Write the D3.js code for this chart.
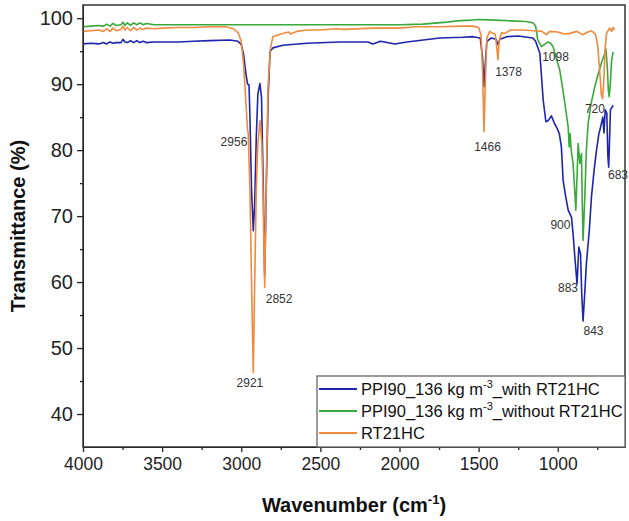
<!DOCTYPE html>
<html>
<head>
<meta charset="utf-8">
<script src="https://cdn.jsdelivr.net/npm/d3@7"></script>
<style>
  body { margin: 0; background: #fff; }
  svg text { font-family: Arial, 'Liberation Sans', sans-serif; }
</style>
</head>
<body>
<svg id="chart" width="629" height="521"></svg>
<script>
// blue: PPI90 foam with RT21HC
const blueWn = [4000, 3950, 3900, 3870, 3850, 3830, 3810, 3790, 3760, 3747, 3735, 3720, 3700, 3680, 3660, 3640, 3620, 3600, 3550, 3400, 3300, 3200, 3071, 3020, 3000, 2985, 2970, 2960, 2951, 2945, 2935, 2924, 2915, 2905, 2895, 2882, 2872, 2862, 2852, 2842, 2830, 2818, 2800, 2737, 2585, 2377, 2200, 2168, 2120, 2029, 1953, 1850, 1745, 1600, 1536, 1490, 1475, 1466, 1458, 1448, 1420, 1390, 1378, 1365, 1322, 1250, 1157, 1140, 1113, 1092, 1075, 1060, 1040, 1020, 1008, 990, 977, 966, 950, 934, 913, 902, 892, 878, 867, 856, 848, 840, 829, 819, 800, 787, 770, 755, 740, 734, 715, 708, 700, 690, 683, 678, 672, 667, 650];
const blueT = [96.1, 96.2, 96.1, 96.3, 96.1, 96.4, 96.2, 96.3, 96.3, 96.8, 96.4, 96.3, 96.6, 96.3, 96.6, 96.3, 96.5, 96.3, 96.4, 96.4, 96.5, 96.6, 96.7, 96.5, 96.0, 94.5, 91.5, 90.0, 89.9, 85, 74, 67.8, 72, 82, 88.5, 90.1, 88, 76, 61, 74, 88, 94.9, 95.5, 95.9, 96.2, 96.4, 96.4, 96.1, 96.5, 96.1, 96.4, 96.7, 97.0, 97.1, 97.2, 97.0, 94, 89.6, 93, 96.5, 97.0, 96.8, 96.0, 96.8, 97.2, 97.3, 97.0, 96.5, 94.7, 87.6, 84.3, 84.5, 85.2, 84.0, 83.5, 82.5, 80.5, 75.4, 73.0, 70.9, 69.8, 67, 63.8, 59.7, 65.3, 64.3, 58, 54.1, 58.5, 62.8, 68, 72.9, 77, 80.0, 82.5, 83.0, 85.0, 82.6, 86.1, 85.6, 79, 77.4, 82, 86.1, 86.8];

// green: PPI90 foam without RT21HC
const greenWn = [4000, 3950, 3900, 3870, 3850, 3830, 3810, 3790, 3760, 3747, 3735, 3720, 3700, 3680, 3660, 3640, 3620, 3600, 3550, 3400, 3000, 2500, 2000, 1852, 1700, 1637, 1550, 1500, 1400, 1300, 1200, 1157, 1140, 1126, 1103, 1085, 1061, 1045, 1030, 1010, 987, 970, 955, 934, 928, 922, 915, 903, 893, 886, 878, 871, 860, 850, 845, 840, 829, 819, 808, 790, 766, 745, 724, 705, 696, 688, 680, 675, 668, 660, 650];
const greenT = [98.7, 98.8, 98.9, 98.8, 99.1, 98.8, 99.2, 98.9, 99.0, 99.4, 98.9, 99.3, 98.9, 99.3, 99.0, 99.3, 99.0, 99.2, 99.0, 99.0, 99.0, 99.0, 99.0, 99.1, 99.4, 99.6, 99.7, 99.8, 99.7, 99.6, 99.5, 99.3, 98.8, 96.7, 95.7, 96.0, 96.4, 96.2, 95.7, 94.0, 92.1, 89.5, 87.1, 83.5, 80.5, 82.5, 80.0, 78.0, 74, 70.9, 76, 81.0, 78, 79.5, 72, 66.3, 72.9, 80.0, 84.0, 87.0, 89.6, 91.5, 93.2, 94.5, 95.4, 93, 89, 88.1, 90, 93.5, 94.9];

// orange: RT21HC
const orangeWn = [4000, 3950, 3900, 3870, 3850, 3830, 3810, 3790, 3760, 3747, 3735, 3720, 3700, 3680, 3660, 3640, 3620, 3600, 3550, 3500, 3400, 3300, 3200, 3100, 3050, 3020, 3000, 2985, 2970, 2960, 2956, 2945, 2935, 2924, 2915, 2905, 2895, 2882, 2870, 2862, 2852, 2842, 2830, 2815, 2800, 2750, 2700, 2690, 2650, 2585, 2500, 2400, 2350, 2168, 2000, 1900, 1745, 1600, 1536, 1500, 1485, 1475, 1466, 1458, 1448, 1430, 1410, 1395, 1385, 1378, 1370, 1355, 1334, 1300, 1220, 1150, 1100, 1071, 1050, 1000, 960, 923, 880, 842, 810, 787, 760, 747, 735, 725, 717, 710, 700, 692, 680, 671, 660, 650, 640];
const orangeT = [98.0, 98.1, 98.2, 98.0, 98.4, 98.0, 98.5, 98.1, 98.3, 98.8, 98.2, 98.6, 98.1, 98.6, 98.2, 98.5, 98.3, 98.5, 98.4, 98.5, 98.6, 98.6, 98.7, 98.7, 98.4, 97.8, 96.5, 93, 87, 83, 82.6, 74, 60, 46.3, 60, 74, 81, 84.5, 81, 73, 59.2, 75, 90, 95.5, 97.2, 97.6, 97.9, 97.6, 98, 98.2, 98.2, 98.4, 98.3, 98.5, 98.5, 98.7, 98.7, 98.8, 98.8, 98.6, 97.5, 92, 82.8, 90, 97, 98, 97.7, 97.6, 95.5, 93.7, 96.5, 97.8, 97.7, 98.2, 98.2, 98.1, 98.0, 97.5, 98.0, 97.9, 97.6, 97.7, 98.0, 97.5, 97.9, 98.1, 97.5, 95.7, 92, 88.5, 87.8, 90, 95.5, 97.7, 98.2, 98.5, 98.0, 98.6, 98.2];

const seriesNames = ['PPI90_136 kg m', 'PPI90_136 kg m', 'RT21HC'];
const seriesSuffix = ['_with RT21HC', '_without RT21HC', ''];
const seriesColors = ['#1d25ad', '#3aa83a', '#f08a3c'];

const xTicks = [4000, 3500, 3000, 2500, 2000, 1500, 1000];
const yTicks = [40, 50, 60, 70, 80, 90, 100];

// peak annotations, anchored in data units (wavenumber, transmittance)
const peakLabels = ['2956', '2921', '2852', '1466', '1378', '1098', '720', '683', '900', '883', '843'];
const peakWn = [3046, 2945, 2761, 1444, 1311, 1014, 765, 619, 983, 935, 774];
const peakT = [81.2, 44.7, 57.4, 80.5, 91.8, 94.1, 86.2, 76.2, 68.7, 59.1, 52.6];

const margins = { left: 83, right: 4, top: 5, bottom: 74 };
const width = 629, height = 521;

const vis = d3.select('#chart');

const xScale = d3
    .scaleLinear()
    .domain([4000, 575])
    .range([margins.left, width - margins.right]),
  yScale = d3
    .scaleLinear()
    .domain([35, 102])
    .range([height - margins.bottom, margins.top]);

const x0 = margins.left,
  x1 = width - margins.right,
  y0 = height - margins.bottom,
  y1 = margins.top;

// minor ticks first, then major ticks with labels
vis
  .append('g')
  .attr('transform', 'translate(0,' + y0 + ')')
  .call(
    d3.axisBottom(xScale)
      .tickValues(d3.range(3750, 575, -500))
      .tickSize(3)
      .tickFormat('')
      .tickSizeOuter(0)
  );
vis
  .append('g')
  .attr('transform', 'translate(' + x0 + ',0)')
  .call(
    d3.axisLeft(yScale)
      .tickValues(d3.range(45, 100, 10))
      .tickSize(3)
      .tickFormat('')
      .tickSizeOuter(0)
  );

const xAxis = vis
  .append('g')
  .attr('transform', 'translate(0,' + y0 + ')')
  .call(
    d3.axisBottom(xScale)
      .tickValues(xTicks)
      .tickFormat(d3.format('d'))
      .tickSize(5)
      .tickPadding(6)
      .tickSizeOuter(0)
  );
const yAxis = vis
  .append('g')
  .attr('transform', 'translate(' + x0 + ',0)')
  .call(
    d3.axisLeft(yScale)
      .tickValues(yTicks)
      .tickFormat(d3.format('d'))
      .tickSize(6)
      .tickPadding(4)
      .tickSizeOuter(0)
  );

xAxis.select('.domain').remove();
yAxis.select('.domain').remove();
xAxis.selectAll('text').style('font-size', '17.5px').attr('fill', '#222');
yAxis.selectAll('text').style('font-size', '20px').attr('fill', '#222');
vis.selectAll('.tick line').attr('stroke', '#222').attr('stroke-width', 1.3);

// lines
const lineGen = d3
  .line()
  .x(d => xScale(d[0]))
  .y(d => yScale(d[1]));

const allSeries = [
  d3.zip(blueWn, blueT),
  d3.zip(greenWn, greenT),
  d3.zip(orangeWn, orangeT)
];

vis
  .append('g')
  .selectAll('path')
  .data(allSeries)
  .join('path')
  .attr('d', lineGen)
  .attr('fill', 'none')
  .attr('stroke', (d, i) => seriesColors[i])
  .attr('stroke-width', 1.6)
  .attr('stroke-linejoin', 'round');

// frame
vis
  .append('rect')
  .attr('x', x0)
  .attr('y', y1)
  .attr('width', x1 - x0)
  .attr('height', y0 - y1)
  .attr('fill', 'none')
  .attr('stroke', '#333')
  .attr('stroke-width', 1.5);

// peak labels
vis
  .append('g')
  .selectAll('text')
  .data(peakLabels)
  .join('text')
  .attr('x', (d, i) => xScale(peakWn[i]))
  .attr('y', (d, i) => yScale(peakT[i]))
  .attr('dy', '0.35em')
  .attr('text-anchor', 'middle')
  .style('font-size', '12px')
  .attr('fill', '#333')
  .text(d => d);

// legend
const legend = vis.append('g').attr('transform', 'translate(317,376)');
legend
  .append('rect')
  .attr('width', x1 - 317)
  .attr('height', y0 - 376)
  .attr('fill', '#fff')
  .attr('stroke', '#666')
  .attr('stroke-width', 1.3);

const rows = legend
  .selectAll('g.row')
  .data(seriesNames)
  .join('g')
  .attr('class', 'row')
  .attr('transform', (d, i) => 'translate(0,' + (13 + i * 22) + ')');

rows
  .append('line')
  .attr('x1', 2)
  .attr('x2', 40)
  .attr('stroke', (d, i) => seriesColors[i])
  .attr('stroke-width', 1.8);

rows.each(function (d, i) {
  const t = d3
    .select(this)
    .append('text')
    .attr('x', 44)
    .attr('dy', '0.35em')
    .style('font-size', '16.5px')
    .attr('fill', '#111');
  t.append('tspan').text(d);
  if (seriesSuffix[i]) {
    t.append('tspan').attr('dy', -7).style('font-size', '11px').text('-3');
    t.append('tspan').attr('dy', 7).text(seriesSuffix[i]);
  }
});

// axis titles
const xTitle = vis
  .append('text')
  .attr('x', (x0 + x1) / 2)
  .attr('y', 512)
  .attr('text-anchor', 'middle')
  .style('font-size', '20px')
  .style('font-weight', 'bold')
  .attr('fill', '#111');
xTitle.append('tspan').text('Wavenumber (cm');
xTitle.append('tspan').attr('dy', -8).style('font-size', '13px').text('-1');
xTitle.append('tspan').attr('dy', 8).text(')');

vis
  .append('text')
  .attr('transform', 'translate(25,' + (y0 + y1) / 2 + ') rotate(-90)')
  .attr('text-anchor', 'middle')
  .style('font-size', '20px')
  .style('font-weight', 'bold')
  .attr('fill', '#111')
  .text('Transmittance (%)');
</script>
</body>
</html>
